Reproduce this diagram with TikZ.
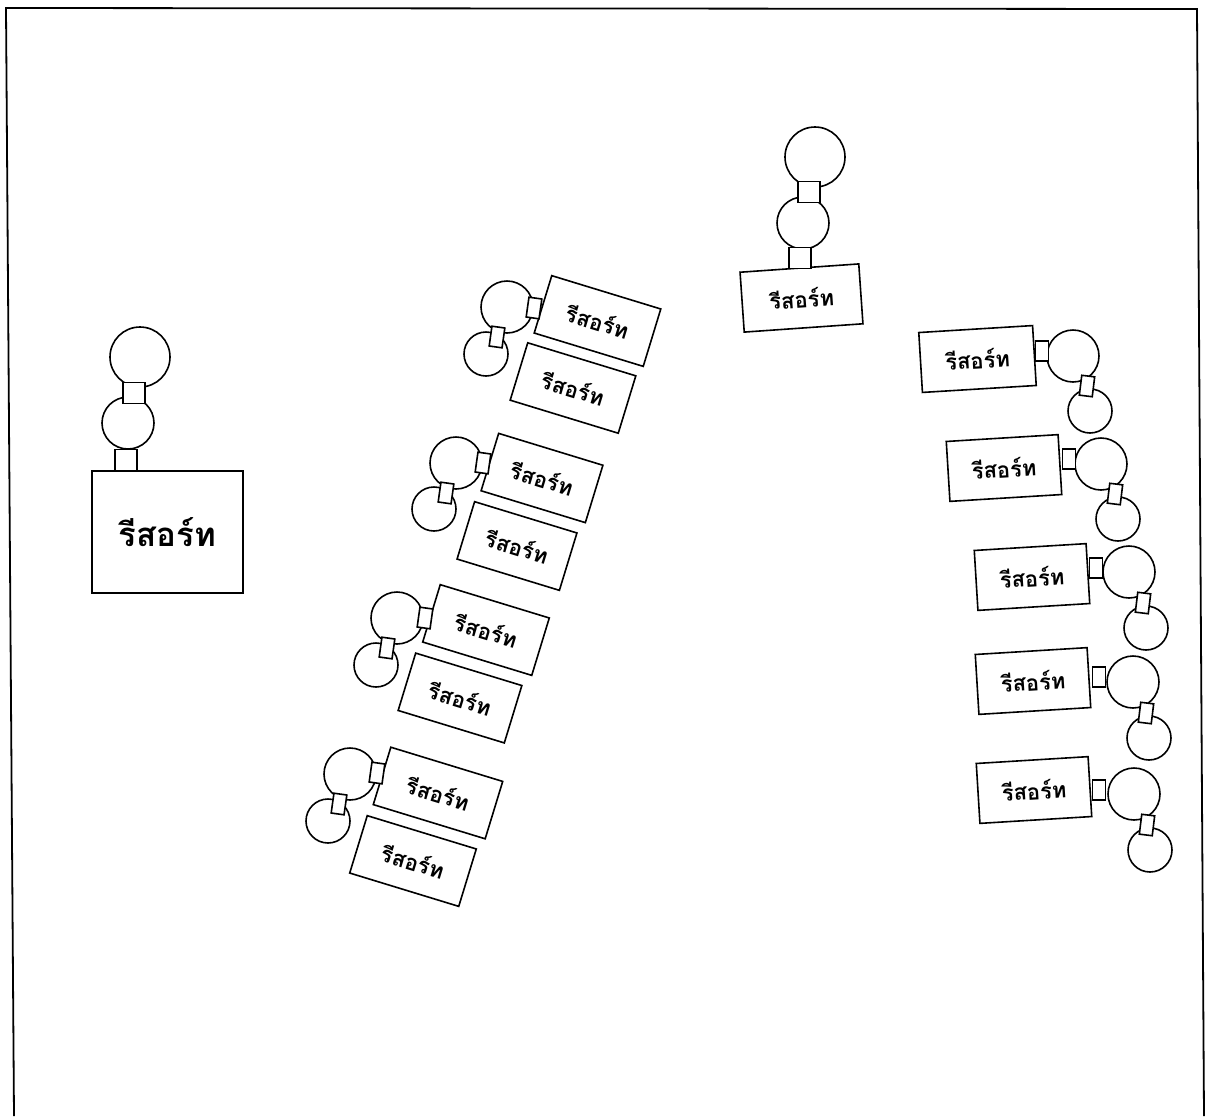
\documentclass[tikz,border=0pt]{standalone}
\usepackage{fontspec}
\newfontfamily\thaifont[Script=Thai]{Loma}
\usetikzlibrary{shapes.geometric}
\tikzstyle{resort} = [rectangle, draw=black, fill=white, line width=0.8pt, inner sep=0pt, outer sep=0pt, minimum width=57pt, minimum height=30pt, text centered, font=\thaifont\bfseries\fontsize{11}{12}\selectfont]
\tikzstyle{mainresort} = [resort, minimum width=75.5pt, minimum height=61pt, font=\thaifont\bfseries\fontsize{16.5}{18}\selectfont]
\tikzstyle{bigpool} = [circle, draw=black, fill=white, line width=0.8pt, inner sep=0pt, outer sep=0pt, minimum size=26pt]
\tikzstyle{smallpool} = [bigpool, minimum size=22pt]
\tikzstyle{toppool} = [bigpool, minimum size=30pt]
\tikzstyle{link} = [rectangle, draw=black, fill=white, line width=0.8pt, inner sep=0pt, outer sep=0pt, minimum width=6.5pt, minimum height=10pt]
\tikzstyle{widelink} = [link, minimum width=11pt, minimum height=10.5pt]
\newcommand{\resortname}{รีสอร์ท}
\begin{document}
\begin{tikzpicture}[x=0.5pt, y=-0.5pt]
	\useasboundingbox (0,0) rectangle (1206,1116);
	% frame
	\coordinate (fa) at (14,1116);
	\coordinate (fb) at (6,8);
	\coordinate (fc) at (1197,9);
	\coordinate (fd) at (1204,1116);
	\draw [line width=0.9pt] (fa) -- (fb) -- (fc) -- (fd);
	% left, large
	\node (pool1) [toppool] at (140,357) {};
	\node (pool2) [bigpool] at (128,423) {};
	\node (main) [mainresort] at (167.5,532) {\resortname};
	\node (lk1) [widelink] at (134,393) {};
	\node (lk2) [widelink] at (126,460) {};
	% top middle
	\node (pool3) [toppool] at (815,157) {};
	\node (pool4) [bigpool] at (803,223) {};
	\node (top) [resort, rotate=4, minimum width=59.5pt] at (801.5,298) {\resortname};
	\node (lk3) [widelink] at (809,192) {};
	\node (lk4) [widelink] at (800,258) {};
	% slanted row
	\node (a1) [bigpool] at (507,307) {};
	\node (b1) [smallpool] at (486,354) {};
	\node (r1) [resort, rotate=-17] at (597.5,321) {\resortname};
	\node (r2) [resort, rotate=-17, minimum width=56.5pt] at (573,388) {\resortname};
	\node (c1) [link, rotate=-8] at (534,308) {};
	\node (d1) [link, rotate=-8] at (497,337) {};
	\node (a2) [bigpool] at (456,463) {};
	\node (b2) [smallpool] at (434,509) {};
	\node (r3) [resort, rotate=-17, minimum width=54.5pt] at (542,478) {\resortname};
	\node (r4) [resort, rotate=-17, minimum width=53.5pt] at (517,546) {\resortname};
	\node (c2) [link, rotate=-8] at (483,463) {};
	\node (d2) [link, rotate=-8] at (446,493) {};
	\node (a3) [bigpool] at (397,618) {};
	\node (b3) [smallpool] at (376,665) {};
	\node (r5) [resort, rotate=-17] at (486,630) {\resortname};
	\node (r6) [resort, rotate=-17, minimum width=55.5pt] at (460,698) {\resortname};
	\node (c3) [link, rotate=-8] at (425,618) {};
	\node (d3) [link, rotate=-8] at (387,648) {};
	\node (a4) [bigpool] at (350,774) {};
	\node (b4) [smallpool] at (328,821) {};
	\node (r7) [resort, rotate=-17, minimum width=58.5pt] at (438,793) {\resortname};
	\node (r8) [resort, rotate=-17] at (413,861) {\resortname};
	\node (c4) [link, rotate=-8] at (377,773) {};
	\node (d4) [link, rotate=-8] at (339,804) {};
	% right column
	\node (e1) [bigpool] at (1073,356) {};
	\node (f1) [smallpool] at (1090,411) {};
	\node (s1) [resort, rotate=3.5] at (977.5,359) {\resortname};
	\node (g1) [link] at (1042,351) {};
	\node (h1) [link, rotate=-7] at (1087,386) {};
	\node (e2) [bigpool] at (1101,464) {};
	\node (f2) [smallpool] at (1118,519) {};
	\node (s2) [resort, rotate=3.5, minimum width=56pt] at (1004,468) {\resortname};
	\node (g2) [link] at (1069,459) {};
	\node (h2) [link, rotate=-7] at (1115,494) {};
	\node (e3) [bigpool] at (1129,572) {};
	\node (f3) [smallpool] at (1146,628) {};
	\node (s3) [resort, rotate=3.5, minimum width=56pt] at (1032,577) {\resortname};
	\node (g3) [link] at (1096,568) {};
	\node (h3) [link, rotate=-7] at (1143,603) {};
	\node (e4) [bigpool] at (1133,682) {};
	\node (f4) [smallpool] at (1149,738) {};
	\node (s4) [resort, rotate=3.5, minimum width=56pt] at (1033,681) {\resortname};
	\node (g4) [link] at (1099,677) {};
	\node (h4) [link, rotate=-7] at (1146,713) {};
	\node (e5) [bigpool] at (1134,794) {};
	\node (f5) [smallpool] at (1150,850) {};
	\node (s5) [resort, rotate=3.5, minimum width=56pt] at (1034,790) {\resortname};
	\node (g5) [link] at (1099,790) {};
	\node (h5) [link, rotate=-7] at (1147,825) {};
\end{tikzpicture}
\end{document}
